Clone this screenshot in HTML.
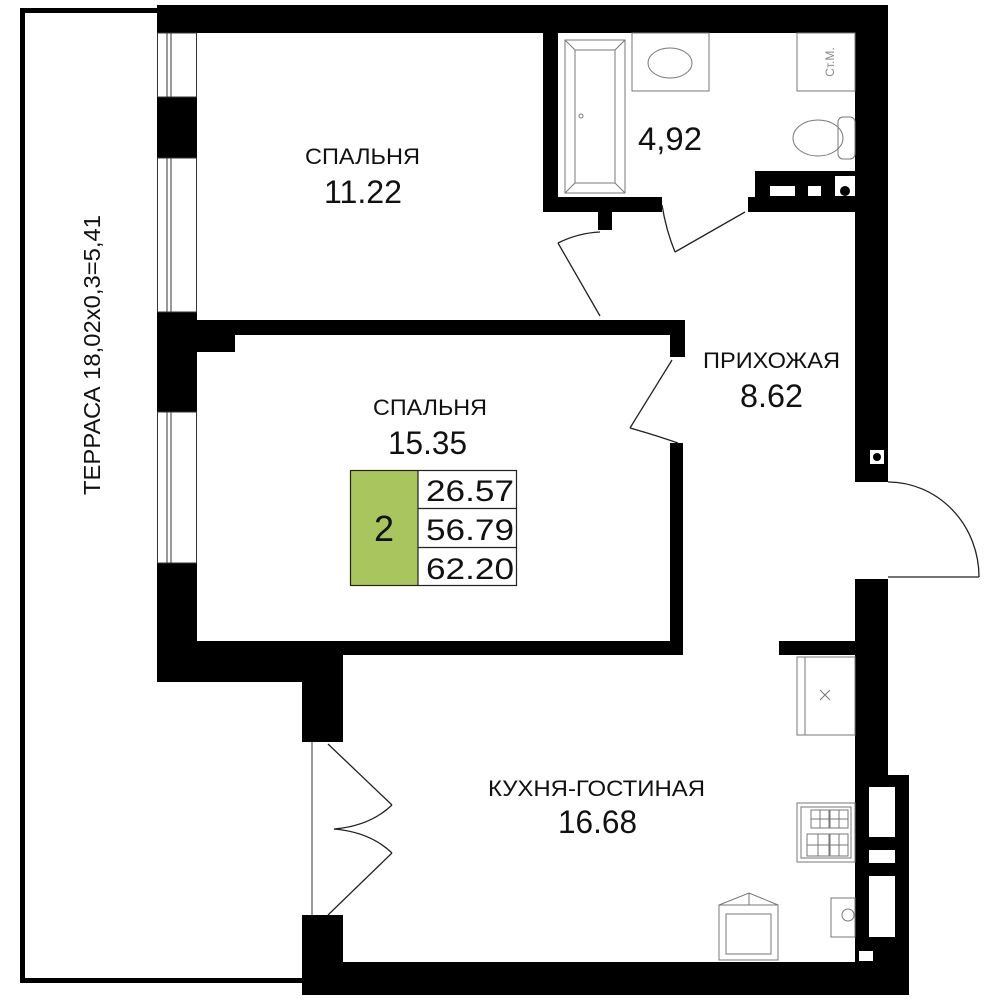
<!DOCTYPE html>
<html><head><meta charset="utf-8"><style>
html,body{margin:0;padding:0;background:#fff;width:1000px;height:1000px;overflow:hidden}
svg{display:block}
text{font-family:"Liberation Sans",sans-serif;fill:#111}
</style></head><body>
<svg width="1000" height="1000" viewBox="0 0 1000 1000" xmlns="http://www.w3.org/2000/svg">
<!-- terrace outline -->
<polyline points="157,10.5 22.5,10.5 22.5,980.5 303,980.5" fill="none" stroke="#000" stroke-width="5"/>
<text transform="translate(100,355) rotate(-90)" font-size="23" text-anchor="middle" textLength="280" lengthAdjust="spacingAndGlyphs">ТЕРРАСА 18,02х0,3=5,41</text>

<g fill="#000">
<rect x="157" y="5" width="731" height="28"/>
<rect x="855" y="5" width="33" height="477"/>
<rect x="855" y="579" width="33" height="416"/>
<rect x="855" y="775" width="54" height="220"/>
<rect x="302" y="962" width="607" height="33"/>
<rect x="157" y="97" width="40" height="61"/>
<rect x="157" y="312" width="40" height="100"/>
<rect x="197" y="320" width="488" height="15"/>
<rect x="197" y="335" width="38" height="17"/>
<rect x="157" y="563" width="40" height="119"/>
<rect x="157" y="641" width="526" height="14"/>
<rect x="157" y="655" width="186" height="27"/>
<rect x="302" y="655" width="41" height="87"/>
<rect x="302" y="915" width="41" height="80"/>
<rect x="670" y="320" width="15" height="37"/>
<rect x="670" y="443" width="13" height="212"/>
<rect x="779" y="641" width="76" height="14"/>
<rect x="543" y="33" width="15" height="179"/>
<rect x="543" y="197" width="119" height="15"/>
<rect x="598" y="212" width="14" height="18"/>
<rect x="748" y="197" width="107" height="15"/>
<rect x="755" y="171" width="100" height="41"/>
</g>
<g fill="#fff">
<rect x="770" y="186" width="25" height="10"/>
<rect x="808" y="186" width="13" height="10"/>
<rect x="835" y="176" width="20" height="20"/>
<rect x="869" y="787" width="26" height="50"/>
<rect x="869" y="850" width="26" height="13"/>
<rect x="869" y="876" width="26" height="61"/>
<rect x="870" y="450" width="14" height="14"/>
<rect x="859" y="951" width="14" height="10"/>
</g>
<circle cx="845" cy="191" r="5" fill="#000"/>
<circle cx="877" cy="457" r="4" fill="#000"/>
<circle cx="878" cy="956" r="4" fill="#000"/>

<g fill="none" stroke="#333" stroke-width="1">
<rect x="157.5" y="33" width="39" height="64"/><line x1="167" y1="33" x2="167" y2="97"/><line x1="171" y1="33" x2="171" y2="97"/>
<rect x="157.5" y="158" width="39" height="154"/><line x1="167" y1="158" x2="167" y2="312"/><line x1="171" y1="158" x2="171" y2="312"/>
<rect x="157.5" y="412" width="39" height="151"/><line x1="167" y1="412" x2="167" y2="563"/><line x1="171" y1="412" x2="171" y2="563"/>
<line x1="312" y1="742" x2="312" y2="915"/>
</g>

<g fill="none" stroke="#222" stroke-width="1.3">
<line x1="600" y1="316" x2="558" y2="243"/><path d="M558,243 Q578,233 600,232"/>
<line x1="745" y1="212" x2="675" y2="252"/><path d="M675,252 Q666,230 662,205"/>
<line x1="672" y1="360" x2="630" y2="428"/><path d="M630,428 Q652,434 678,443"/>
<line x1="888" y1="577" x2="979" y2="577"/><path d="M979,577 A91,95 0 0 0 888,482"/>
<line x1="328" y1="744" x2="392" y2="805"/><path d="M392,805 Q370,826 334,829"/>
<line x1="328" y1="915" x2="392" y2="853"/><path d="M392,853 Q370,832 334,829"/>
</g>

<g fill="none" stroke="#777" stroke-width="1">
<rect x="565" y="40" width="60" height="153"/>
<rect x="575" y="50" width="40" height="133"/>
<line x1="565" y1="40" x2="575" y2="50"/><line x1="625" y1="40" x2="615" y2="50"/>
<line x1="565" y1="193" x2="575" y2="183"/><line x1="625" y1="193" x2="615" y2="183"/>
<circle cx="581" cy="116" r="2"/>
<rect x="632" y="33" width="77" height="58"/>
<ellipse cx="670" cy="63" rx="22" ry="15"/>
<rect x="797" y="33" width="58" height="58"/>
<ellipse cx="818" cy="138" rx="25" ry="18"/>
<rect x="838" y="117" width="17" height="42" rx="5"/>
<rect x="797" y="657" width="58" height="78"/><line x1="805" y1="657" x2="805" y2="735"/>
<path d="M820,690 l10,10 M830,690 l-10,10"/>
<rect x="797" y="803" width="58" height="59"/><rect x="801" y="807" width="50" height="51"/>
<rect x="811" y="810" width="18" height="18"/><rect x="830" y="810" width="18" height="18"/>
<rect x="807" y="834" width="22" height="22"/><rect x="830" y="834" width="18" height="22"/>
<path d="M820,810 v18 M811,819 h18 M839,810 v18 M830,819 h18 M818,834 v22 M807,845 h22 M839,834 v22 M830,845 h18"/>
<rect x="831" y="898" width="24" height="39"/><circle cx="848" cy="915" r="6"/>
<rect x="719" y="905" width="59" height="55"/><rect x="726" y="914" width="45" height="40"/>
<path d="M719,905 L749,893 L778,905 M749,893 V905"/>
</g>
<text transform="translate(834,62) rotate(-90)" font-size="12" text-anchor="middle" style="fill:#888">Ст.М.</text>

<text x="305" y="164" font-size="22" textLength="115" lengthAdjust="spacingAndGlyphs">СПАЛЬНЯ</text>
<text x="324" y="203" font-size="32" textLength="78" lengthAdjust="spacingAndGlyphs">11.22</text>
<text x="638" y="150" font-size="32" textLength="64" lengthAdjust="spacingAndGlyphs">4,92</text>
<text x="703" y="368" font-size="22" textLength="137" lengthAdjust="spacingAndGlyphs">ПРИХОЖАЯ</text>
<text x="740" y="407" font-size="32" textLength="63" lengthAdjust="spacingAndGlyphs">8.62</text>
<text x="373" y="415" font-size="22" textLength="114" lengthAdjust="spacingAndGlyphs">СПАЛЬНЯ</text>
<text x="388" y="454" font-size="32" textLength="79" lengthAdjust="spacingAndGlyphs">15.35</text>
<text x="488" y="796" font-size="22" textLength="217" lengthAdjust="spacingAndGlyphs">КУХНЯ-ГОСТИНАЯ</text>
<text x="558" y="833" font-size="32" textLength="79" lengthAdjust="spacingAndGlyphs">16.68</text>

<rect x="350" y="470" width="68" height="116" fill="#a8c55e"/>
<rect x="350.5" y="470.5" width="166" height="115" fill="none" stroke="#222" stroke-width="1.2"/>
<line x1="418" y1="470" x2="418" y2="586" stroke="#222" stroke-width="1.2"/>
<line x1="418" y1="508.5" x2="517" y2="508.5" stroke="#222" stroke-width="1.2"/>
<line x1="418" y1="547.5" x2="517" y2="547.5" stroke="#222" stroke-width="1.2"/>
<text x="384" y="541" font-size="36" text-anchor="middle">2</text>
<text x="426" y="501" font-size="30" textLength="88" lengthAdjust="spacingAndGlyphs">26.57</text>
<text x="426" y="540" font-size="30" textLength="88" lengthAdjust="spacingAndGlyphs">56.79</text>
<text x="426" y="579" font-size="30" textLength="88" lengthAdjust="spacingAndGlyphs">62.20</text>
</svg>
</body></html>
